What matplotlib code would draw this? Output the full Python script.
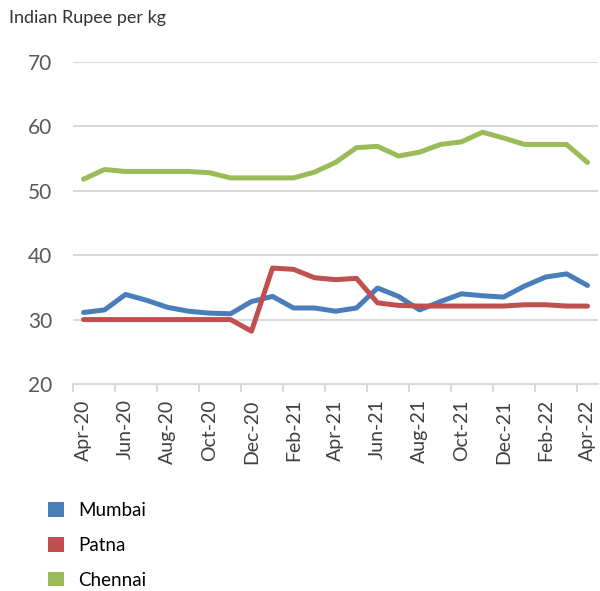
import matplotlib.pyplot as plt
from matplotlib.patches import Patch
import numpy as np

months = ["Apr-20", "May-20", "Jun-20", "Jul-20", "Aug-20", "Sep-20", "Oct-20", "Nov-20",
          "Dec-20", "Jan-21", "Feb-21", "Mar-21", "Apr-21", "May-21", "Jun-21", "Jul-21",
          "Aug-21", "Sep-21", "Oct-21", "Nov-21", "Dec-21", "Jan-22", "Feb-22", "Mar-22", "Apr-22"]
mumbai = [31.1, 31.5, 33.9, 33.0, 31.9, 31.3, 31.0, 30.9, 32.8, 33.6, 31.8, 31.8, 31.3,
          31.8, 34.9, 33.6, 31.5, 32.8, 34.0, 33.7, 33.5, 35.2, 36.6, 37.1, 35.3]
patna = [30.0, 30.0, 30.0, 30.0, 30.0, 30.0, 30.0, 30.0, 28.2, 38.0, 37.8, 36.5, 36.2,
         36.4, 32.6, 32.2, 32.1, 32.1, 32.1, 32.1, 32.1, 32.3, 32.3, 32.1, 32.1]
chennai = [51.8, 53.3, 53.0, 53.0, 53.0, 53.0, 52.8, 52.0, 52.0, 52.0, 52.0, 52.9, 54.4,
           56.7, 56.9, 55.4, 56.0, 57.2, 57.6, 59.1, 58.2, 57.2, 57.2, 57.2, 54.4]

series = [("Mumbai", mumbai, "#4a7ebb"), ("Patna", patna, "#c0504d"), ("Chennai", chennai, "#9bbb59")]

plt.rcParams['font.family'] = ['Lato', 'DejaVu Sans']

fig = plt.figure(figsize=(6, 5.91), dpi=100)
ax = fig.add_axes([0.1217, 0.3503, 0.875, 0.5448])

x = np.arange(len(months))
for name, vals, col in series:
    ax.plot(x, vals, color=col, lw=3.6, solid_joinstyle='round', solid_capstyle='round')

ax.set_ylim(20, 70)
ax.set_xlim(-0.5, len(months) - 0.5)
ax.set_yticks([20, 30, 40, 50, 60, 70])
ax.yaxis.grid(True, color="#d9d9d9", lw=1.5)
ax.set_axisbelow(True)
for s in ["top", "right", "left"]:
    ax.spines[s].set_visible(False)
ax.spines["bottom"].set_color("#d9d9d9")
ax.spines["bottom"].set_linewidth(1.5)

ax.set_xticks(x[::2])
ax.set_xticklabels(months[::2], rotation=90, fontsize=14, color="#404040")
ax.set_xticks(np.arange(-0.5, len(months) - 1, 2), minor=True)
ax.tick_params(axis="x", which="major", length=0, pad=11)
ax.tick_params(axis="x", which="minor", length=6, width=1.5, color="#d9d9d9")
ax.tick_params(axis="y", length=0, labelsize=15, labelcolor="#595959", pad=15)

fig.text(0.015, 0.97, "Indian Rupee per kg", fontsize=13, color="#333333", va="center")

handles = [Patch(facecolor=c, edgecolor="none", label=n) for n, v, c in series]
fig.legend(handles=handles, loc="upper left", bbox_to_anchor=(0.068, 0.163), frameon=False,
           fontsize=13.5, handlelength=0.85, handleheight=0.8, handletextpad=0.75,
           labelspacing=0.95, borderaxespad=0)

fig.savefig("out.png", dpi=100)
